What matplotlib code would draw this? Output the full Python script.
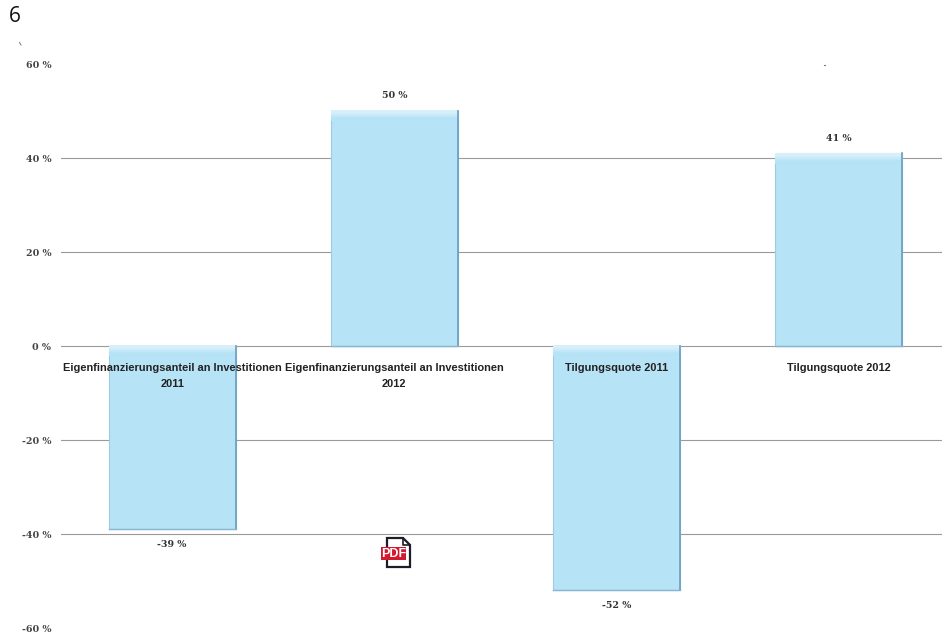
import matplotlib
matplotlib.use('Agg')
import matplotlib.pyplot as plt
import numpy as np
from matplotlib.patches import Polygon, Rectangle

W, H = 942, 635

categories = ['Eigenfinanzierungsanteil an Investitionen\n2011',
              'Eigenfinanzierungsanteil an Investitionen\n2012',
              'Tilgungsquote 2011',
              'Tilgungsquote 2012']
values = [-39, 50, -52, 41]
bar_labels = ['-39 %', '50 %', '-52 %', '41 %']
y_ticks = [-60, -40, -20, 0, 20, 40, 60]
grid_lines = [-40, -20, 0, 20, 40]


def px_axes(left, right, top, bottom):
    return [left / W, 1 - bottom / H, (right - left) / W, (bottom - top) / H]


def draw_overlay(fig):
    # pdf badge and scan specks, they sit on the page and are not part of the data
    ax = fig.add_axes([0, 0, 1, 1], facecolor='none')
    ax.set_xlim(0, W)
    ax.set_ylim(H, 0)
    ax.axis('off')
    ax.add_patch(Polygon([(387, 538), (403, 538), (410, 545), (410, 567), (387, 567)],
                         closed=True, facecolor='white', edgecolor='#1c1c2a', linewidth=1.6))
    ax.plot([403, 403, 410], [538, 545, 545], color='#1c1c2a', linewidth=1.2)
    ax.add_patch(Rectangle((381, 547), 25, 13, facecolor='#d3182f', edgecolor='none'))
    ax.text(393.5, 553.8, 'PDF', color='white', fontsize=9, fontweight='bold',
            ha='center', va='center', family='Liberation Sans')
    ax.plot([19.5, 21], [42.5, 45], color='#777777', linewidth=0.7)
    ax.plot([823.5, 825], [65, 65], color='#777777', linewidth=0.8)


def main():
    fig = plt.figure(figsize=(W / 100, H / 100), dpi=100)
    ax = fig.add_axes(px_axes(61, 950, 64, 628))

    x = np.arange(len(values))

    for g in grid_lines:
        ax.axhline(g, color='#9a9a9a', linewidth=0.8, zorder=0.5)

    bars = ax.bar(x, values, width=0.572, color='#b6e3f6', edgecolor='#9fcbe0',
                  linewidth=0.8, zorder=1)

    # light band along the top of each bar, darker right and bottom edges
    shade = np.array([[0.84, 0.94, 0.98], [0.71, 0.89, 0.96]])[:, None, :]
    for bar in bars:
        x0, x1 = bar.get_x(), bar.get_x() + bar.get_width()
        y0, y1 = sorted((bar.get_y(), bar.get_y() + bar.get_height()))
        ax.imshow(shade, extent=(x0, x1, y1 - 2.2, y1), aspect='auto', zorder=1.05,
                  interpolation='bilinear')
        ax.plot([x1, x1], [y0, y1], color='#6c9dc0', linewidth=1.2, zorder=1.1)
        ax.plot([x0, x1], [y0, y0], color='#86b6d2', linewidth=1.0, zorder=1.1)
    ax.set_xlim(-0.5, len(values) - 0.5)
    ax.set_ylim(-60, 60)

    for xi, v, lab in zip(x, values, bar_labels):
        offset = 11 if v > 0 else -11
        ax.annotate(lab, (xi, v), xytext=(0, offset), textcoords='offset points',
                    ha='center', va='center', fontsize=6.8, color='#333333',
                    family='DejaVu Serif', fontweight='bold')

    for spine in ax.spines.values():
        spine.set_visible(False)
    ax.spines['bottom'].set_position(('data', 0))

    ax.set_xticks(x)
    ax.set_xticklabels(categories, fontsize=7.9, fontweight='bold', color='#222222',
                       family='Liberation Sans', linespacing=1.75)
    ax.tick_params(axis='x', length=0, pad=12)
    ax.set_yticks(y_ticks)
    ax.set_yticklabels(['{} %'.format(t) for t in y_ticks], fontsize=6.8,
                       fontweight='bold', color='#444444', family='DejaVu Serif')
    ax.tick_params(axis='y', length=0, pad=7)

    fig.text(9 / W, 1 - 17 / H, '6', fontsize=15, color='#111111',
             family='Open Sans', ha='left', va='center')

    draw_overlay(fig)
    fig.savefig('out.png', dpi=100)


if __name__ == '__main__':
    main()
